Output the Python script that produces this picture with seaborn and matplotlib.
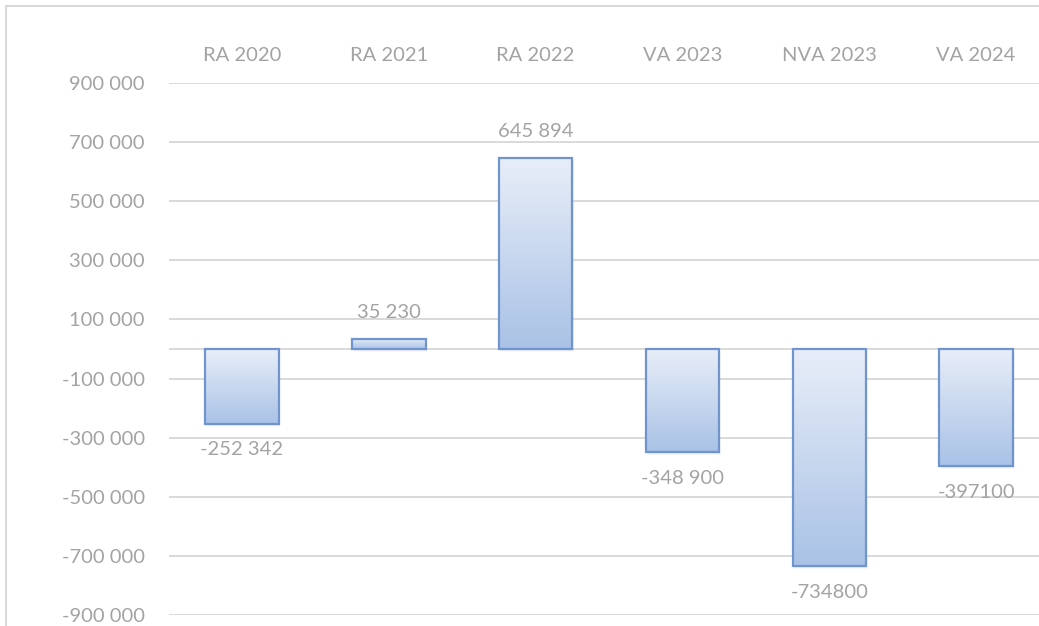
import numpy as np
import pandas as pd
import seaborn as sns
import matplotlib.pyplot as plt
from matplotlib.patches import Rectangle
from matplotlib.colors import LinearSegmentedColormap

categories = ["RA 2020", "RA 2021", "RA 2022", "VA 2023", "NVA 2023", "VA 2024"]
values = [-252342, 35230, 645894, -348900, -734800, -397100]
value_labels = ["-252 342", "35 230", "645 894", "-348 900", "-734800", "-397100"]
y_ticks = list(range(-900000, 900001, 200000))
y_tick_labels = [f"{t:,}".replace(",", " ") for t in y_ticks]

sns.set_theme(style="white")
plt.rcParams["font.family"] = ["Lato", "DejaVu Sans"]

text_color = "#a3a3a3"
grid_color = "#d9d9d9"
edge_color = "#7094cd"
grad = LinearSegmentedColormap.from_list("bar", ["#e8eef8", "#a9c2e6"])

df = pd.DataFrame({"cat": categories, "val": values})

fig = plt.figure(figsize=(10.39, 6.26), dpi=100)
ax = fig.add_axes([168.6 / 1039, 11 / 626, 881 / 1039, 532 / 626])

sns.barplot(data=df, x="cat", y="val", ax=ax, width=0.5, color="white",
            edgecolor=edge_color, linewidth=1.6, zorder=3)

ax.set_ylim(-900000, 900000)
ax.set_xlim(-0.5, len(categories) - 0.5)

# gradient fill + soft shadow for each bar
px = 1800000 / 532
for p in ax.patches:
    x0, w = p.get_x(), p.get_width()
    y0, h = p.get_y(), p.get_height()
    lo, hi = min(y0, y0 + h), max(y0, y0 + h)
    p.set_facecolor("none")
    for k, a in [(1, 0.12), (2, 0.08), (3, 0.05)]:
        ax.add_patch(Rectangle((x0 + 0.004 * k, lo - k * px), w, hi - lo,
                               facecolor="#808080", edgecolor="none",
                               alpha=a, zorder=1.5))
    ax.add_patch(Rectangle((x0, lo), w, hi - lo, facecolor="white",
                           edgecolor="none", zorder=2))
    im = ax.imshow(np.linspace(0, 1, 256).reshape(-1, 1), cmap=grad,
                   extent=[x0, x0 + w, lo, hi], aspect="auto", zorder=2.5)
    im.set_clip_path(p)

ax.set_ylim(-900000, 900000)
ax.set_xlim(-0.5, len(categories) - 0.5)

for i, (v, lab) in enumerate(zip(values, value_labels)):
    off = 19 if v > 0 else -19
    ax.annotate(lab, (i, v), xytext=(0, off), textcoords="offset points",
                ha="center", va="center", fontsize=14.5, color=text_color)

ax.set_yticks(y_ticks)
ax.set_yticklabels(y_tick_labels)
ax.yaxis.grid(True, color=grid_color, lw=1.4)
ax.axhline(0, color=grid_color, lw=1.4, zorder=1)
ax.set_axisbelow(True)
ax.xaxis.tick_top()
ax.set_xlabel("")
ax.set_ylabel("")
ax.tick_params(axis="x", length=0, pad=14, labelsize=14.5, labelcolor=text_color)
ax.tick_params(axis="y", length=0, pad=17, labelsize=14.5, labelcolor=text_color)
for s in ax.spines.values():
    s.set_visible(False)

fig.add_artist(Rectangle((6 / 1039, -0.1), 1.2, 620 / 626 + 0.1,
                         transform=fig.transFigure, fill=False,
                         edgecolor=grid_color, lw=1.5))

fig.savefig("out.png", dpi=100)
